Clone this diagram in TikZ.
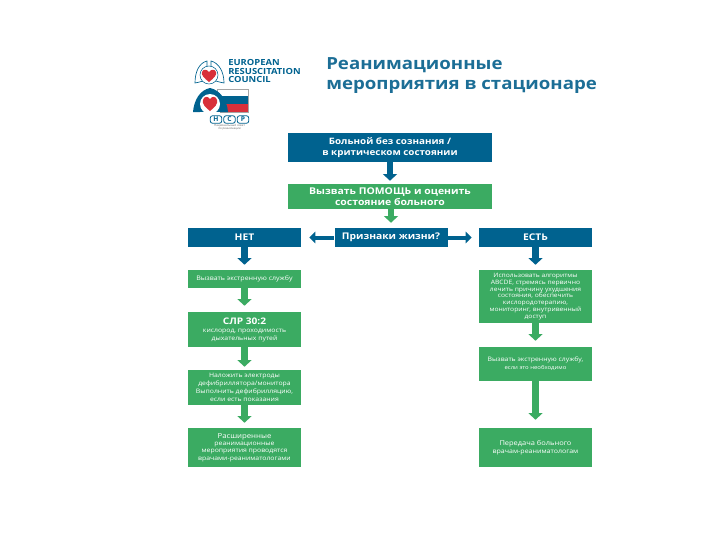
\documentclass[tikz,border=0pt]{standalone}
\usepackage{fontspec}
\setmainfont{Open Sans}
\newfontfamily\widefont[FakeStretch=1.12]{Open Sans}
\usepackage{tikz}
\usetikzlibrary{
  arrows.meta,
  positioning
}
\definecolor{ercblue}{HTML}{00628F}
\definecolor{ercgreen}{HTML}{3BAB62}
\definecolor{titleblue}{HTML}{1C6E96}
\definecolor{flagred}{HTML}{D8303A}

\begin{document}
\begin{tikzpicture}[
  x=0.75pt, y=-0.75pt,
  % Node styles
  bluebox/.style={
    rectangle,
    fill=ercblue,
    text=white,
    inner sep=0pt,
    font=\fontsize{6.6}{8}\widefont\bfseries,
    align=center,
  },
  greenbox/.style={
    rectangle,
    fill=ercgreen,
    text=white,
    inner sep=0pt,
    font=\fontsize{4.6}{6}\widefont,
    align=center,
  },
  widebox/.style={minimum width=153pt},
  colbox/.style={minimum width=84.75pt},
  headbox/.style={bluebox, colbox, minimum height=14.25pt, font=\fontsize{6.9}{8}\widefont\bfseries},
  % Arrow styles
  bluearrow/.style={
    -{Triangle[length=5pt, width=10.5pt]},
    line width=5pt,
    ercblue,
  },
  greenarrow/.style={
    -{Triangle[length=5pt, width=10.5pt]},
    line width=5pt,
    ercgreen,
  },
  sidearrow/.style={
    -{Triangle[length=4.5pt, width=8.5pt]},
    line width=3pt,
    ercblue,
  },
  logotext/.style={
    font=\fontsize{6.3}{6.6}\widefont\bfseries,
    text=ercblue,
    align=left,
    anchor=west,
    inner sep=0pt,
  },
]

\useasboundingbox (0,0) rectangle (720,540);

% ── Title ──
\node[anchor=west, inner sep=0pt, align=left, text=titleblue,
  font=\fontsize{12.5}{15}\widefont\bfseries] (title) at (326, 76)
  {Реанимационные\\мероприятия в стационаре};

% ── ERC logo ──
\node[logotext] (erctext) at (228, 71) {EUROPEAN\\RESUSCITATION\\COUNCIL};
\draw[ercblue, line width=0.5pt] (207,61) .. controls (199,63) and (195,72) .. (195,83)
  .. controls (200,82) and (205,81) .. (207,78) -- cycle;
\draw[ercblue, line width=0.5pt] (211,61) .. controls (219,63) and (224,72) .. (224,83)
  .. controls (219,82) and (214,81) .. (211,78) -- cycle;
\fill[white] (209,75) circle (9);
\draw[ercblue, line width=0.4pt] (209,75) circle (9);
\fill[flagred] (209,82) .. controls (204,78) and (201,75) .. (202,72)
  .. controls (203,69) and (207,69) .. (209,72)
  .. controls (211,69) and (215,69) .. (216,72)
  .. controls (217,75) and (214,78) .. (209,82) -- cycle;

% ── NCP logo ──
\fill[white] (217,89) rectangle (248,96);
\fill[ercblue] (217,96) rectangle (248,104);
\fill[flagred] (217,104) rectangle (248,112);
\draw[black!35, line width=0.3pt] (217,89) rectangle (248,112);
\fill[ercblue] (210,88) .. controls (200,90) and (194,100) .. (193,112)
  -- (228,112) .. controls (227,100) and (220,90) .. (210,88) -- cycle;
\fill[white] (210,104) circle (10);
\fill[white] (200,112) rectangle (220,114);
\fill[flagred] (210,111) .. controls (205,107) and (202,104) .. (203,100)
  .. controls (204,96) and (208,96) .. (210,99)
  .. controls (212,96) and (216,96) .. (217,100)
  .. controls (218,104) and (215,107) .. (210,111) -- cycle;
\foreach \px/\plet in {216/Н, 229.5/С, 243/Р}{
  \node[draw=ercblue, rounded corners=1.5pt, line width=0.6pt, minimum width=8.5pt,
    minimum height=5.5pt, inner sep=0pt, text=ercblue,
    font=\fontsize{5}{5}\bfseries] (ncp\plet) at (\px, 119.5) {\plet};
}
\node[font=\fontsize{2.2}{2.6}\selectfont, text=black!60, align=center, inner sep=0pt]
  (ncptext) at (229.5, 127.5) {Национальный совет\\по реанимации};

% ── Top of the chart ──
\node[bluebox, widebox, minimum height=21.75pt] (patient) at (390, 147.5)
  {Больной без сознания /\\в критическом состоянии};
\node[greenbox, widebox, minimum height=18.75pt, font=\fontsize{7}{8}\widefont\bfseries]
  (callhelp) at (390, 196.5) {Вызвать ПОМОЩЬ и оценить\\состояние больного};

% ── Decision row ──
\node[headbox] (signs) at (391, 237.5) {Признаки жизни?};
\node[headbox] (no) at (244.5, 237.5) {НЕТ};
\node[headbox] (yes) at (535.5, 237.5) {ЕСТЬ};

% ── Left column ──
\node[greenbox, colbox, minimum height=13.5pt, font=\fontsize{4.7}{5}\widefont]
  (leftcall) at (244.5, 279) {Вызвать экстренную службу};
\node[greenbox, colbox, minimum height=26.25pt] (cpr) at (244.5, 329.5)
  {{\fontsize{6.8}{8}\selectfont\bfseries СЛР 30:2}\\кислород, проходимость\\дыхательных путей};
\node[greenbox, colbox, minimum height=26.25pt] (pads) at (244.5, 387.5)
  {Наложить электроды\\дефибриллятора/монитора\\Выполнить дефибрилляцию,\\если есть показания};
\node[greenbox, colbox, minimum height=29.25pt, font=\fontsize{4.6}{5.6}\widefont] (advanced) at (244.5, 447.5)
  {{\fontsize{5.2}{6}\selectfont Расширенные}\\реанимационные\\мероприятия проводятся\\врачами-реаниматологами};

% ── Right column ──
\node[greenbox, colbox, minimum height=39.75pt, font=\fontsize{4.5}{5.1}\widefont] (abcde) at (535.5, 296.5)
  {Использовать алгоритмы\\ABCDE, стремясь первично\\лечить причину ухудшения\\состояния, обеспечить\\кислородотерапию,\\мониторинг, внутривенный\\доступ};
\node[greenbox, colbox, minimum height=25.5pt] (rightcall) at (535.5, 364)
  {Вызвать экстренную службу,\\{\fontsize{4}{5}\selectfont если это необходимо}};
\node[greenbox, colbox, minimum height=29.25pt] (handover) at (535.5, 447.5)
  {{\fontsize{5}{6}\selectfont Передача больного}\\{\fontsize{4.7}{5}\selectfont врачам-реаниматологам}};

% ── Arrows ──
\draw[bluearrow, shorten >=2.25pt] (patient) -- (callhelp);
\draw[greenarrow, shorten >=3.75pt] (callhelp.south -| signs.north) -- (signs.north);
\draw[sidearrow, shorten >=6pt] (signs) -- (no);
\draw[sidearrow, shorten >=5.25pt] (signs) -- (yes);
\draw[bluearrow, shorten >=3.75pt] (no) -- (leftcall);
\draw[bluearrow, shorten >=3.75pt] (yes) -- (abcde);

% Left column
\draw[greenarrow, shorten >=4.5pt] (leftcall) -- (cpr);
\draw[greenarrow, shorten >=2.25pt] (cpr) -- (pads);
\draw[greenarrow, shorten >=3.75pt] (pads) -- (advanced);

% Right column
\draw[greenarrow, shorten >=4.5pt] (abcde) -- (rightcall);
\draw[greenarrow, shorten >=6pt] (rightcall) -- (handover);

\end{tikzpicture}
\end{document}
